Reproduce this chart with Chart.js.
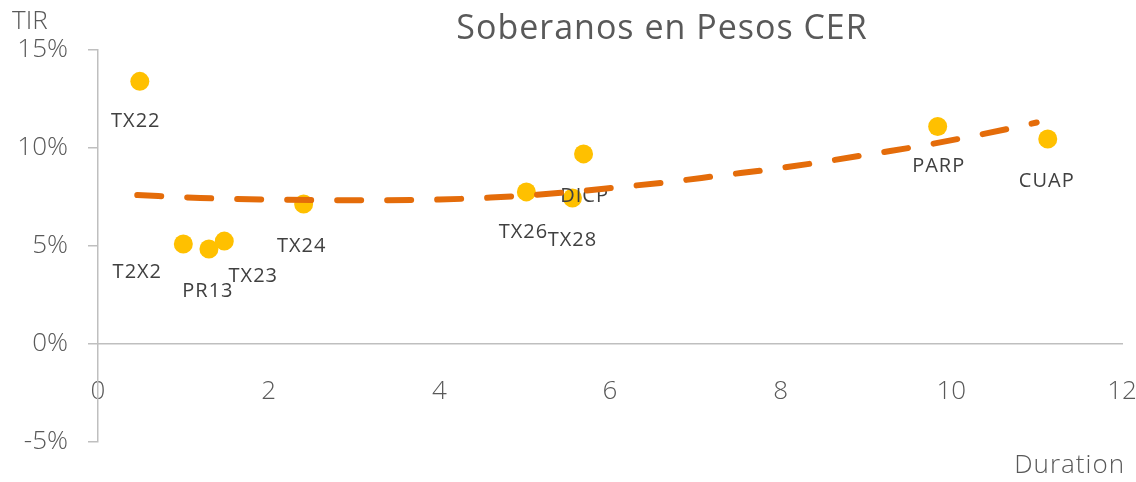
<!DOCTYPE html>
<html>
<head>
<meta charset="utf-8">
<script src="https://cdn.jsdelivr.net/npm/chart.js@4.4.1/dist/chart.umd.min.js"></script>
<style>
  body { margin: 0; background: #fff; }
  canvas { display: block; }
</style>
</head>
<body>
<canvas id="cerChart" width="1136" height="482"></canvas>
<script>
// Bonos CER: duration (years) vs TIR (%)
const bondNames = ['TX22', 'T2X2', 'PR13', 'TX23', 'TX24', 'TX26', 'TX28', 'DICP', 'PARP', 'CUAP'];
const durations = [0.49, 1.00, 1.30, 1.48, 2.41, 5.02, 5.56, 5.69, 9.84, 11.13];
const yields    = [13.4, 5.1, 4.85, 5.25, 7.14, 7.76, 7.45, 9.7, 11.1, 10.46];

// trend curve
const trendX = [0.46, 1.2, 2.0, 3.0, 4.0, 4.6, 5.1, 5.6, 6.1, 6.7, 7.3, 7.9, 8.5, 9.1, 9.7, 10.3, 10.8, 11.0];
const trendY = [7.6, 7.45, 7.37, 7.33, 7.37, 7.47, 7.6, 7.78, 8.0, 8.27, 8.6, 8.92, 9.3, 9.72, 10.15, 10.65, 11.1, 11.3];

const xTicks = [0, 2, 4, 6, 8, 10, 12];
const yTicks = [-5, 0, 5, 10, 15];

// where each label sits relative to its dot (px)
const labelShift = [[-4, 40], [-46, 28], [-1, 42], [29, 35], [-2, 42], [-3, 40], [0, 42], [1, 42], [1, 40], [-1, 42]];

const FONT = '"Open Sans", "Noto Sans", sans-serif';

const bondPoints = durations.map((d, i) => ({ x: d, y: yields[i] }));
const trendPoints = trendX.map((d, i) => ({ x: d, y: trendY[i] }));

// labels under the trend line, drawn right after the dots
const pointLabels = {
    id: 'pointLabels',
    afterDatasetDraw(chart, args) {
        if (args.index !== 1) return;
        const ctx = chart.ctx;
        const meta = chart.getDatasetMeta(1);
        ctx.save();
        ctx.font = '20px ' + FONT;
        ctx.letterSpacing = '1px';
        ctx.fillStyle = '#404040';
        ctx.textAlign = 'center';
        ctx.textBaseline = 'middle';
        meta.data.forEach((pt, i) => {
            ctx.fillText(bondNames[i], pt.x + labelShift[i][0], pt.y + labelShift[i][1]);
        });
        ctx.restore();
    }
};

// title and axis names
const extraText = {
    id: 'extraText',
    afterDraw(chart) {
        const ctx = chart.ctx;
        ctx.save();
        ctx.fillStyle = '#595959';
        ctx.textBaseline = 'middle';
        ctx.font = '34px ' + FONT;
        ctx.letterSpacing = '1px';
        ctx.textAlign = 'center';
        ctx.fillText('Soberanos en Pesos CER', 662, 29);
        ctx.letterSpacing = '0px';
        ctx.font = '300 26px ' + FONT;
        ctx.textAlign = 'left';
        ctx.fillText('TIR', 12, 22);
        ctx.textAlign = 'right';
        ctx.letterSpacing = '1px';
        ctx.fillText('Duration', 1125, 466);
        ctx.restore();
    }
};

const ctx = document.getElementById('cerChart').getContext('2d');
const cerChart = new Chart(ctx, {
    type: 'scatter',
    data: {
        datasets: [{
            type: 'line',
            label: 'Tendencia',
            data: trendPoints,
            borderColor: '#E46C0A',
            borderWidth: 6,
            borderDash: [24, 26],
            borderCapStyle: 'round',
            pointRadius: 0,
            tension: 0.4,
            cubicInterpolationMode: 'monotone',
            fill: false,
            order: 0
        }, {
            label: 'Soberanos CER',
            data: bondPoints,
            backgroundColor: '#FFC000',
            borderColor: '#FFC000',
            borderWidth: 0,
            pointRadius: 9.5,
            pointHoverRadius: 9.5,
            order: 1
        }]
    },
    options: {
        responsive: false,
        animation: false,
        layout: { padding: { top: 50, right: 14, bottom: 40, left: 0 } },
        plugins: {
            legend: { display: false },
            tooltip: { enabled: false },
            title: { display: false }
        },
        scales: {
            x: {
                type: 'linear',
                position: { y: 0 },
                min: 0,
                max: 12,
                afterBuildTicks: axis => { axis.ticks = xTicks.map(v => ({ value: v })); },
                afterFit: axis => { axis.paddingLeft = 0; axis.paddingRight = 0; },
                grid: { display: false },
                border: { display: true, color: '#BFBFBF', width: 1.5 },
                ticks: {
                    color: '#595959',
                    font: { family: FONT, size: 26, weight: '300' },
                    padding: 24,
                    maxRotation: 0
                }
            },
            y: {
                type: 'linear',
                min: -5,
                max: 15,
                afterBuildTicks: axis => { axis.ticks = yTicks.map(v => ({ value: v })); },
                afterFit: axis => { axis.width = 98; axis.paddingTop = 0; axis.paddingBottom = 0; },
                grid: {
                    drawOnChartArea: false,
                    drawTicks: true,
                    tickLength: 10,
                    color: '#BFBFBF',
                    lineWidth: 1.5
                },
                border: { display: true, color: '#BFBFBF', width: 1.5 },
                ticks: {
                    color: '#595959',
                    font: { family: FONT, size: 26, weight: '300' },
                    padding: 20,
                    callback: v => v + '%'
                }
            }
        }
    },
    plugins: [pointLabels, extraText]
});
</script>
</body>
</html>
